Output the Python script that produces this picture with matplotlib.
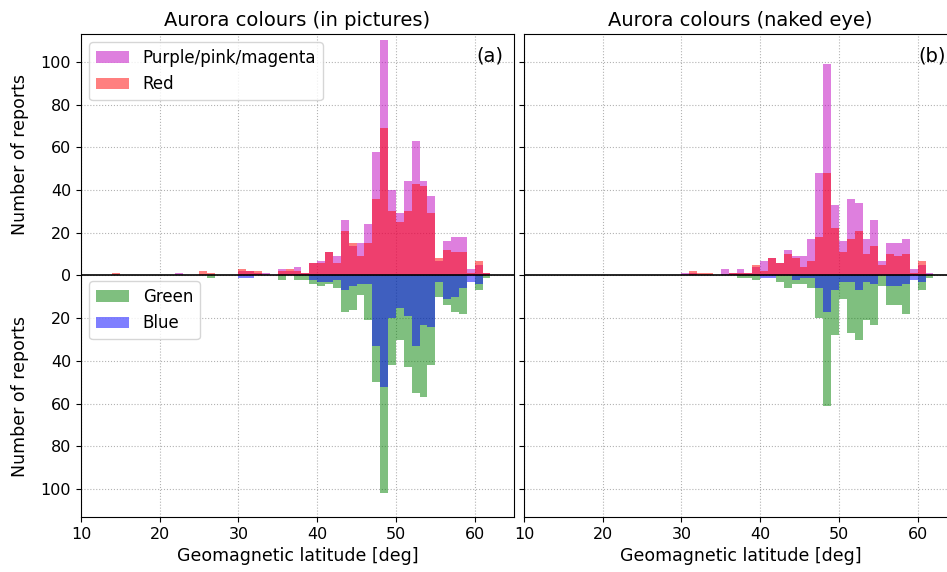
import numpy as np
import matplotlib.pyplot as plt
from matplotlib.ticker import FuncFormatter

# geomagnetic latitude bins (left edges, 1 deg wide)
lat = list(range(14, 62))

# in pictures
purple_pic = [0]*8 + [1] + [0]*7 + [2, 2, 1, 1, 0, 3, 2, 4, 1, 6, 7, 11, 9, 26, 14, 15, 24, 58, 110, 40,
                                      29, 44, 63, 44, 37, 7, 16, 18, 18, 3, 5, 1]
red_pic = [1] + [0]*10 + [2, 1] + [0]*3 + [3, 2, 2, 0, 0, 2, 3, 2, 1, 6, 6, 11, 6, 21, 15, 9, 15, 36, 69, 30,
                                           25, 30, 43, 42, 29, 8, 12, 11, 11, 1, 7, 1]
green_pic = [0]*12 + [1] + [0]*8 + [2, 0, 2, 2, 4, 5, 4, 6, 17, 16, 9, 21, 50, 102, 42, 30, 43, 55, 57, 42,
                                    10, 14, 17, 18, 0, 7, 1]
blue_pic = [0]*16 + [1, 1] + [0]*7 + [2, 3, 3, 2, 7, 5, 4, 4, 33, 52, 20, 15, 19, 33, 23, 24, 3, 11, 10, 6,
                                      3, 4, 0]

# naked eye
purple_eye = [0]*16 + [1, 1, 0, 0, 0, 3, 1, 3, 1, 4, 7, 8, 6, 12, 9, 9, 17, 48, 99, 33, 16, 36, 34, 17, 26,
                       7, 15, 15, 17, 3, 5, 1]
red_eye = [0]*16 + [0, 2, 1, 1, 0, 0, 1, 1, 1, 5, 2, 8, 6, 10, 8, 4, 7, 18, 48, 22, 11, 17, 21, 10, 14,
                    5, 10, 9, 10, 1, 7, 0]
green_eye = [0]*23 + [1, 1, 2, 0, 0, 3, 6, 4, 4, 6, 20, 61, 28, 11, 27, 30, 21, 23, 5, 14, 14, 18, 0, 7, 1]
blue_eye = [0]*26 + [1, 1, 0, 0, 2, 1, 1, 6, 17, 7, 3, 3, 7, 3, 4, 0, 5, 5, 4, 2, 3, 0]

yticks = [-100, -80, -60, -40, -20, 0, 20, 40, 60, 80, 100]

fig = plt.figure(figsize=(9.47, 5.72), dpi=100)
ax1 = fig.add_axes([0.0855, 0.0962, 0.4573, 0.8444])
# right panel runs past the figure edge, as in the (cropped) original
ax2 = fig.add_axes([0.5533, 0.0962, 0.4573, 0.8444], sharey=ax1)

panels = [(ax1, purple_pic, red_pic, green_pic, blue_pic, 'Aurora colours (in pictures)', '(a)'),
          (ax2, purple_eye, red_eye, green_eye, blue_eye, 'Aurora colours (naked eye)', '(b)')]

for ax, pur, red, grn, blu, title, tag in panels:
    ax.bar(lat, pur, width=1, align='edge', color='m', alpha=0.5, label='Purple/pink/magenta')
    ax.bar(lat, red, width=1, align='edge', color='r', alpha=0.5, label='Red')
    ax.bar(lat, -np.array(grn), width=1, align='edge', color='g', alpha=0.5, label='Green')
    ax.bar(lat, -np.array(blu), width=1, align='edge', color='b', alpha=0.5, label='Blue')
    ax.axhline(0, color='k', lw=1.2)
    ax.grid(ls=':', color='gray', alpha=0.6)
    ax.set_axisbelow(True)
    ax.set_xlim(10, 65)
    ax.set_ylim(-113, 113)
    ax.set_yticks(yticks)
    ax.yaxis.set_major_formatter(FuncFormatter(lambda v, p: '%d' % abs(v)))
    ax.tick_params(labelsize=11.5)
    ax.set_title(title, fontsize=14)
    ax.set_xlabel('Geomagnetic latitude [deg]', fontsize=12.5)
    ax.text(0.975, 0.975, tag, transform=ax.transAxes, ha='right', va='top', fontsize=14)

plt.setp(ax2.get_yticklabels(), visible=False)

h, l = ax1.get_legend_handles_labels()
leg1 = ax1.legend(h[:2], l[:2], loc='upper left', fontsize=12)
ax1.add_artist(leg1)
ax1.legend(h[2:], l[2:], loc='upper left', bbox_to_anchor=(0, 0.505), fontsize=12)

ax1.text(-0.14, 0.75, 'Number of reports', transform=ax1.transAxes, rotation=90,
         ha='center', va='center', fontsize=12.5)
ax1.text(-0.14, 0.25, 'Number of reports', transform=ax1.transAxes, rotation=90,
         ha='center', va='center', fontsize=12.5)

plt.savefig('out.png', dpi=100)
